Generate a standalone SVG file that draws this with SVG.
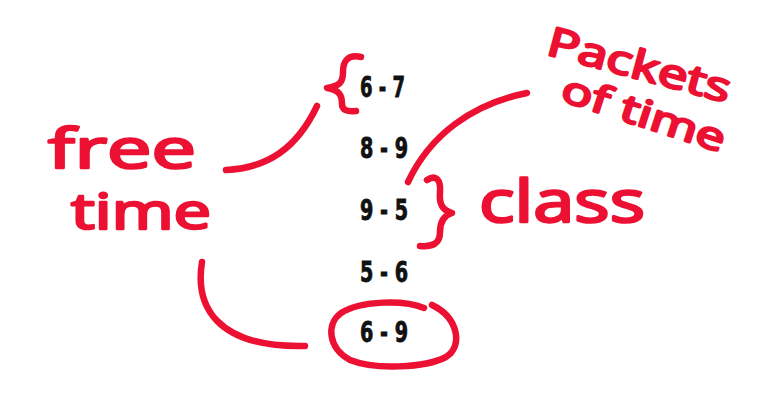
<svg xmlns="http://www.w3.org/2000/svg" width="768" height="419" viewBox="0 0 768 419">
  <style>
    .hand { font-family: "Open Sans", "Noto Sans", "Liberation Sans", sans-serif; font-weight: 400; fill: #ec1133; stroke: #ec1133; stroke-width: 2.5; stroke-linejoin: round; stroke-linecap: round; }
    .num { font-family: "Liberation Sans Narrow", "DejaVu Sans Condensed", "Liberation Sans", sans-serif; font-weight: bold; font-size: 29px; fill: #111; stroke: #111; stroke-width: 0.8; }
    .ink { fill: none; stroke: #ec1133; stroke-width: 6.5; stroke-linecap: round; stroke-linejoin: round; }
  </style>
  <rect width="768" height="419" fill="#ffffff"/>

  <g id="free-time">
    <text class="hand" x="48" y="168" font-size="54" textLength="148" lengthAdjust="spacingAndGlyphs">free</text>
    <text class="hand" x="71" y="229" font-size="50" textLength="140" lengthAdjust="spacingAndGlyphs">time</text>
  </g>

  <g id="times">
    <text class="num" x="360" y="97" textLength="45" lengthAdjust="spacingAndGlyphs">6 - 7</text>
    <text class="num" x="360" y="158" textLength="48" lengthAdjust="spacingAndGlyphs">8 - 9</text>
    <text class="num" x="360" y="220" textLength="48" lengthAdjust="spacingAndGlyphs">9 - 5</text>
    <text class="num" x="360" y="282" textLength="48" lengthAdjust="spacingAndGlyphs">5 - 6</text>
    <text class="num" x="360" y="342" textLength="48" lengthAdjust="spacingAndGlyphs">6 - 9</text>
  </g>

  <g id="class">
    <text class="hand" x="479" y="222" font-size="58" textLength="166" lengthAdjust="spacingAndGlyphs">class</text>
  </g>

  <g id="packets">
    <text class="hand" font-size="40" textLength="188" lengthAdjust="spacingAndGlyphs" transform="translate(545,54) rotate(15)">Packets</text>
    <text class="hand" font-size="38" textLength="170" lengthAdjust="spacingAndGlyphs" transform="translate(559,100) rotate(18)">of time</text>
  </g>

  <g id="connectors">
    <path class="ink" d="M361,57 C347,54 343,62 343,72 C343,82 340,86 327,88 C340,90 342,96 342,104 C342,110 347,112 356,111"/>
    <path class="ink" d="M226,170 C268,168 297,148 317,106"/>
    <path class="ink" d="M202,262 C195,305 215,348 305,346"/>
    <path class="ink" d="M424,308 C405,300 362,300 341,313 C326,324 328,348 350,360 C375,370 425,368 446,357 C463,347 459,318 432,305"/>
    <path class="ink" d="M427,180 C436,174 441,180 440,192 C439,204 442,210 452,213 C442,216 440,224 440,232 C440,244 432,247 420,246"/>
    <path class="ink" d="M527,93 C472,104 430,135 408,182"/>
  </g>
</svg>
